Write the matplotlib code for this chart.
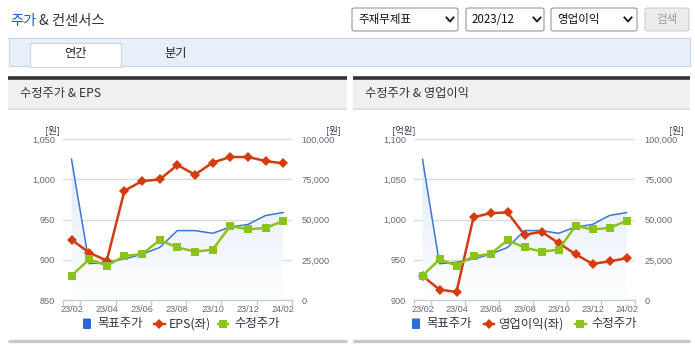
import matplotlib
matplotlib.use('Agg')
import matplotlib.pyplot as plt
import numpy as np
from matplotlib.patches import Rectangle, FancyBboxPatch
from matplotlib.lines import Line2D
from matplotlib.colors import LinearSegmentedColormap
from matplotlib.ticker import FuncFormatter, FixedLocator

plt.rcParams['font.family'] = ['Noto Sans CJK KR', 'DejaVu Sans']

# ---------------- data ----------------
months = ['23/02', '23/03', '23/04', '23/05', '23/06', '23/07', '23/08',
          '23/09', '23/10', '23/11', '23/12', '24/01', '24/02']
tick_labels = ['23/02', '23/04', '23/06', '23/08', '23/10', '23/12', '24/02']
target_price = [87600, 22600, 23500, 25500, 28500, 32700, 43200,
                43200, 41500, 45400, 47000, 52600, 54400]
adj_price = [15100, 25300, 21400, 27400, 28600, 37200, 32700,
             30100, 31300, 46100, 44000, 44800, 49200]
eps = [925, 909, 899, 986, 998, 1000, 1018, 1006, 1021, 1028, 1028, 1023, 1020]
op_profit = [930, 913, 910, 1003, 1008, 1009, 981, 985, 971, 957, 945, 948, 952]

left_ticks_eps = [850, 900, 950, 1000, 1050]
left_ticks_op = [900, 950, 1000, 1050, 1100]
right_ticks = [0, 25000, 50000, 75000, 100000]

# ---------------- styling ----------------
W, H = 695, 349
C_BLUE = '#3a76d6'
C_RED = '#d23c0e'
C_GREEN = '#8cc21c'
C_TICK = '#66667a'
C_AXIS = '#c3d0e0'
NUM_FONT = ['Liberation Sans', 'DejaVu Sans']

fig = plt.figure(figsize=(W / 100, H / 100), dpi=100)
fig.patch.set_facecolor('white')


def fx(x):
    return x / W


def fy(y):
    return 1 - y / H


def rect(x0, y0, x1, y1, **kw):
    fig.patches.append(Rectangle((fx(x0), fy(y1)), (x1 - x0) / W, (y1 - y0) / H,
                                 transform=fig.transFigure, **kw))


def rrect(x0, y0, x1, y1, r=3, **kw):
    fig.patches.append(FancyBboxPatch((fx(x0), fy(y1)), (x1 - x0) / W, (y1 - y0) / H,
                                      boxstyle='round,pad=0,rounding_size=%f' % (r / W),
                                      transform=fig.transFigure, **kw))


def hline(x0, x1, y, color, lw):
    fig.add_artist(Line2D([fx(x0), fx(x1)], [fy(y), fy(y)], color=color, lw=lw,
                          transform=fig.transFigure, solid_capstyle='butt'))


def text(x, y, s, **kw):
    fig.text(fx(x), fy(y), s, **kw)


def chevron(x, y):
    fig.add_artist(Line2D([fx(x - 3.5), fx(x), fx(x + 3.5)], [fy(y - 2), fy(y + 2), fy(y - 2)],
                          color='#222', lw=1.4, transform=fig.transFigure))


# ---------------- header ----------------
text(10, 21, '주가', fontsize=10.3, color='#1a5cd0', va='center')
text(39, 21, '& 컨센서스', fontsize=10.3, color='#333333', va='center')

for (x0, x1, label, cx) in [(352, 458, '주재무제표', 450), (466, 544, '2023/12', 537),
                            (551, 637, '영업이익', 628)]:
    rrect(x0, 8, x1, 31, r=3, facecolor='white', edgecolor='#9a9a9a', lw=0.8)
    text(x0 + 6, 19.5, label, fontsize=8.3, color='#111111', va='center',
         family=['Noto Sans CJK KR', 'DejaVu Sans'])
    chevron(cx, 19.5)
rrect(645, 8, 689, 31, r=3, facecolor='#ececec', edgecolor='#cfcfcf', lw=0.8)
text(667, 19.5, '검색', fontsize=8.3, color='#9a9a9a', va='center', ha='center')

# tab bar
rect(9, 38, 690, 66, facecolor='#e9eff9', edgecolor='#c9d6e8', lw=0.8)
rect(30, 42.5, 121, 66.5, facecolor='white', edgecolor='#c9d6e8', lw=0.8)
hline(30.5, 120.5, 66, 'white', 1.5)
text(75.5, 53.5, '연간', fontsize=8.8, color='#222222', va='center', ha='center')
text(175.5, 53.5, '분기', fontsize=8.8, color='#222222', va='center', ha='center')

# panel headers
for (x0, x1, title) in [(8, 346.5, '수정주가 & EPS'), (353, 690, '수정주가 & 영업이익')]:
    rect(x0, 79, x1, 108.5, facecolor='#f0f0f0', edgecolor='none')
    hline(x0, x1, 78, '#333333', 2.6)
    hline(x0, x1, 109, '#dddddd', 1.2)
    hline(x0, x1, 341, '#c8c8c8', 2.4)
    text(x0 + 12, 94, title, fontsize=8.8, color='#333333', va='center')

# ---------------- charts ----------------
grad_cmap = LinearSegmentedColormap.from_list('g', ['#ffffff', '#dbe6f7'])
x = np.arange(len(months))


def make_chart(px0, px1, red_vals, lticks, unit_left, red_label, legend_x, red_x, green_x):
    r = [fx(px0), fy(300), (px1 - px0) / W, (300 - 139.3) / H]
    axb = fig.add_axes(r, label=unit_left + red_label + 'b')
    axm = fig.add_axes(r, label=unit_left + red_label + 'm')
    axt = fig.add_axes(r, label=unit_left + red_label + 't')
    for a in (axb, axm, axt):
        a.set_xlim(-0.5, len(months) - 0.5)
        for s in a.spines.values():
            s.set_visible(False)
    for a in (axm, axt):
        a.patch.set_visible(False)
        a.xaxis.set_visible(False)
        a.tick_params(left=False, right=False, labelleft=False, labelright=False)

    axb.set_ylim(right_ticks[0], right_ticks[-1])
    axt.set_ylim(right_ticks[0], right_ticks[-1])
    axm.set_ylim(lticks[0], lticks[-1])

    axb.set_axisbelow(True)
    axb.yaxis.set_major_locator(FixedLocator(right_ticks))
    axb.yaxis.grid(True, color='#dcdcdc', lw=1.0)
    axb.yaxis.tick_right()
    axb.tick_params(axis='y', length=0, pad=7, labelsize=6.6, labelcolor=C_TICK)
    axb.yaxis.set_major_formatter(FuncFormatter(lambda v, p: f'{int(v):,}'))
    for t in axb.get_yticklabels():
        t.set_family(NUM_FONT)

    axb.spines['bottom'].set_visible(True)
    axb.spines['bottom'].set_color(C_AXIS)
    axb.spines['bottom'].set_linewidth(1.0)
    axb.set_xticks(np.arange(0, len(months), 2))
    axb.set_xticklabels(tick_labels)
    axb.tick_params(axis='x', which='major', length=0, pad=3.5, labelsize=6.6,
                    labelcolor=C_TICK)
    for t in axb.get_xticklabels():
        t.set_family(NUM_FONT)
    axb.set_xticks([-0.5] + list(np.arange(0.5, len(months), 2)), minor=True)
    axb.tick_params(axis='x', which='minor', length=4, color=C_AXIS, width=1.0)

    axm.yaxis.set_major_locator(FixedLocator(lticks))
    axm.yaxis.tick_left()
    axm.tick_params(axis='y', length=0, pad=5.5, labelsize=6.6, labelcolor=C_TICK,
                    labelleft=True)
    axm.yaxis.set_major_formatter(FuncFormatter(lambda v, p: f'{int(v):,}'))
    for t in axm.get_yticklabels():
        t.set_family(NUM_FONT)

    # blue area with gradient
    poly = axb.fill_between(x, target_price, 0, color='none', lw=0)
    grad = np.linspace(1, 0, 256).reshape(-1, 1)
    im = axb.imshow(grad, extent=[-0.5, len(months) - 0.5, 0, right_ticks[-1]],
                    aspect='auto', cmap=grad_cmap, vmin=0, vmax=1, origin='upper',
                    zorder=1)
    im.set_clip_path(poly.get_paths()[0], transform=axb.transData)
    axb.plot(x, target_price, color=C_BLUE, lw=1.1, zorder=3)
    axb.set_xlim(-0.5, len(months) - 0.5)
    axb.set_ylim(right_ticks[0], right_ticks[-1])

    axm.plot(x, red_vals, color=C_RED, lw=1.8, marker='D', markersize=5.0,
             markeredgewidth=0, zorder=3)
    axt.plot(x, adj_price, color=C_GREEN, lw=1.8, marker='s', markersize=6.3,
             markeredgewidth=0, zorder=3)

    # unit labels
    text(px0 - 10, 130, unit_left, fontsize=6.8, color='#333344', ha='center', va='center')
    text(px1 + 41, 130, '[원]', fontsize=6.8, color='#333344', ha='center', va='center')

    # legend
    lx = legend_x
    rrect(lx, 318.5, lx + 8, 329, r=1.5, facecolor='#2a6ad8', edgecolor='none')
    text(lx + 14.5, 324, '목표주가', fontsize=8.9, color='#333344', va='center')
    rx = red_x
    fig.add_artist(Line2D([fx(rx - 5.5), fx(rx + 5.5)], [fy(324), fy(324)], color=C_RED, lw=1.7,
                          transform=fig.transFigure))
    fig.add_artist(Line2D([fx(rx)], [fy(324)], color=C_RED, marker='D', markersize=4.8,
                          markeredgewidth=0, transform=fig.transFigure))
    text(rx + 9.5, 324, red_label, fontsize=8.9, color='#333344', va='center')
    gx = green_x
    fig.add_artist(Line2D([fx(gx - 5.5), fx(gx + 5.5)], [fy(324), fy(324)], color=C_GREEN,
                          lw=1.7, transform=fig.transFigure))
    fig.add_artist(Line2D([fx(gx)], [fy(324)], color=C_GREEN, marker='s', markersize=5.3,
                          markeredgewidth=0, transform=fig.transFigure))
    text(gx + 11.5, 324, '수정주가', fontsize=8.9, color='#333344', va='center')
    return axb, axm, axt


make_chart(62.7, 292, eps, left_ticks_eps, '[원]', 'EPS(좌)', 83, 159, 223)
make_chart(414, 635, op_profit, left_ticks_op, '[억원]', '영업이익(좌)', 412, 489, 580)

fig.savefig('out.png', dpi=100, facecolor='white')
